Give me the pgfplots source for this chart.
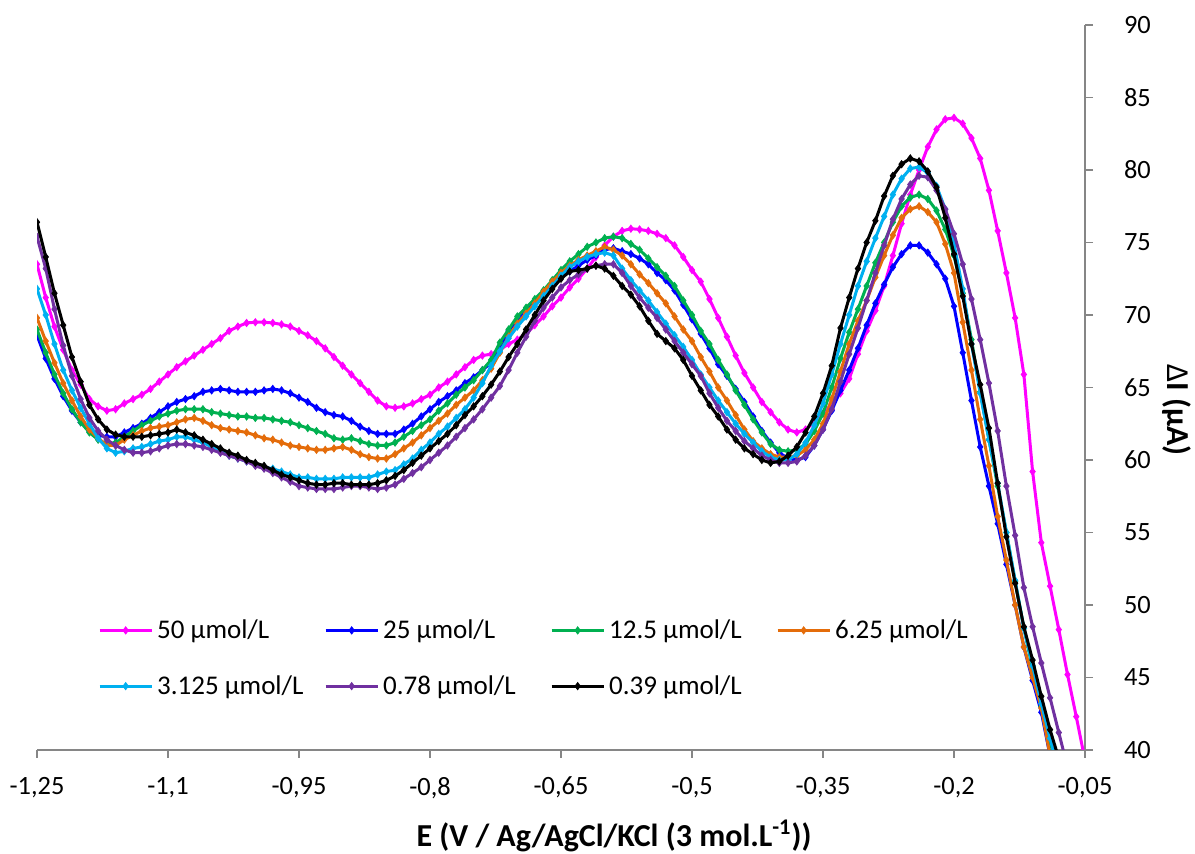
\documentclass[border=0pt]{standalone}
\usepackage{pgfplots}
\pgfplotsset{compat=1.18}
\usepackage{pgfplotstable}
\usepackage{fontspec}
\setmainfont{Carlito}
\definecolor{cM}{HTML}{FF00FF}
\definecolor{cB}{HTML}{0000FF}
\definecolor{cG}{HTML}{00B050}
\definecolor{cO}{HTML}{E46C0A}
\definecolor{cC}{HTML}{00B0F0}
\definecolor{cP}{HTML}{7030A0}
\definecolor{cK}{HTML}{000000}
\definecolor{axisgray}{HTML}{868686}

\pgfplotstableread{
x m b g o c p k
-1.25 73.5 68.6 69.0 69.8 71.8 75.4 76.4
-1.24 71.2 67.0 67.4 68.2 70.0 73.2 74.0
-1.23 69.2 65.6 65.9 66.7 68.0 70.4 71.5
-1.22 67.6 64.4 64.6 65.3 66.2 67.9 69.3
-1.21 66.2 63.4 63.5 64.1 64.8 65.8 67.1
-1.20 65.2 62.6 62.6 63.0 63.6 64.2 65.4
-1.19 64.2 62.0 61.9 62.1 62.5 62.9 63.8
-1.18 63.7 61.7 61.4 61.5 61.5 62.0 62.8
-1.17 63.4 61.6 61.1 61.0 60.8 61.4 62.1
-1.16 63.5 61.6 61.2 61.0 60.5 61.0 61.75
-1.15 63.9 61.9 61.6 61.4 60.6 60.7 61.6
-1.14 64.2 62.2 62.0 61.7 60.8 60.5 61.6
-1.13 64.5 62.5 62.4 62.0 60.9 60.5 61.6
-1.12 64.9 62.9 62.7 62.2 61.1 60.6 61.7
-1.11 65.4 63.3 63.0 62.3 61.3 60.8 61.8
-1.10 65.9 63.7 63.2 62.4 61.4 61.0 61.9
-1.09 66.4 64.0 63.4 62.6 61.6 61.1 62.1
-1.08 66.8 64.2 63.5 62.8 61.6 61.1 61.9
-1.07 67.2 64.4 63.5 62.9 61.4 61.0 61.7
-1.06 67.6 64.7 63.5 62.7 61.2 60.9 61.4
-1.05 68.0 64.8 63.3 62.4 60.9 60.7 61.1
-1.04 68.4 64.9 63.2 62.2 60.6 60.5 60.8
-1.03 68.9 64.8 63.1 62.1 60.3 60.3 60.5
-1.02 69.2 64.7 63.0 62.0 60.1 60.1 60.3
-1.01 69.45 64.7 63.0 61.9 59.9 59.9 60.0
-1.00 69.5 64.7 62.9 61.7 59.7 59.6 59.8
-0.99 69.5 64.8 62.9 61.5 59.5 59.4 59.6
-0.98 69.45 64.9 62.8 61.4 59.4 59.1 59.3
-0.97 69.35 64.8 62.7 61.2 59.2 58.8 59.0
-0.96 69.2 64.6 62.6 61.0 59.0 58.5 58.8
-0.95 68.9 64.3 62.4 60.9 58.8 58.2 58.6
-0.94 68.6 64.0 62.2 60.8 58.8 58.1 58.4
-0.93 68.2 63.6 62.0 60.7 58.7 58.0 58.3
-0.92 67.7 63.3 61.8 60.7 58.7 58.0 58.3
-0.91 67.1 63.1 61.5 60.8 58.7 58.0 58.4
-0.90 66.5 63.0 61.4 60.9 58.8 58.1 58.4
-0.89 65.9 62.7 61.5 60.7 58.8 58.2 58.3
-0.88 65.3 62.3 61.3 60.4 58.8 58.2 58.3
-0.87 64.7 62.0 61.1 60.2 58.8 58.1 58.3
-0.86 64.1 61.8 61.0 60.1 59.0 58.0 58.4
-0.85 63.7 61.8 61.0 60.1 59.2 58.1 58.6
-0.84 63.6 61.8 61.2 60.4 59.3 58.3 58.9
-0.83 63.7 62.1 61.6 60.8 59.7 58.7 59.3
-0.82 63.9 62.5 62.0 61.2 60.1 59.1 59.8
-0.81 64.2 63.0 62.4 61.7 60.7 59.5 60.3
-0.80 64.5 63.5 62.8 62.2 61.2 60.0 60.8
-0.79 65.0 64.0 63.4 62.7 61.8 60.5 61.3
-0.78 65.4 64.4 63.9 63.2 62.3 61.0 61.8
-0.77 65.9 64.8 64.5 63.8 62.9 61.6 62.4
-0.76 66.4 65.3 65.0 64.3 63.5 62.2 63.1
-0.75 66.9 65.7 65.5 64.8 64.3 62.8 63.7
-0.74 67.2 66.2 66.2 65.5 65.3 63.5 64.4
-0.73 67.3 66.7 66.9 66.3 66.5 64.3 65.2
-0.72 67.6 67.8 68.1 67.4 67.5 65.1 66.1
-0.71 68.0 68.9 69.0 68.5 68.4 66.2 67.1
-0.70 68.3 69.7 69.9 69.4 69.2 67.4 68.0
-0.69 68.7 70.4 70.5 70.1 69.9 68.5 69.0
-0.68 69.3 70.9 71.1 70.8 70.6 69.6 70.0
-0.67 69.9 71.5 71.7 71.6 71.3 70.5 71.0
-0.66 70.6 72.1 72.4 72.3 72.0 71.2 71.8
-0.65 71.2 72.6 73.1 72.9 72.7 71.9 72.5
-0.64 71.9 73.0 73.7 73.4 73.3 72.4 73.0
-0.63 72.5 73.4 74.2 73.8 73.7 72.8 73.1
-0.62 73.2 73.8 74.7 74.1 74.0 73.2 73.2
-0.61 74.0 74.1 75.0 74.4 74.2 73.4 73.4
-0.60 74.8 74.5 75.3 74.7 74.3 73.5 73.2
-0.59 75.4 74.6 75.4 74.5 74.1 73.5 72.7
-0.58 75.8 74.4 75.3 74.1 73.2 72.9 72.0
-0.57 75.95 74.2 74.9 73.5 72.4 72.0 71.4
-0.56 75.9 73.9 74.5 72.8 71.7 71.2 70.6
-0.55 75.8 73.5 73.9 72.2 71.0 70.5 69.6
-0.54 75.6 72.9 73.3 71.5 70.2 69.8 68.7
-0.53 75.3 72.4 72.7 70.8 69.4 69.0 68.2
-0.52 74.8 71.7 72.0 69.9 68.6 68.2 67.7
-0.51 74.0 70.7 71.0 69.0 67.8 67.4 66.9
-0.50 73.1 69.7 70.0 68.2 66.9 66.6 65.8
-0.49 72.3 68.7 68.9 67.1 65.9 65.8 64.8
-0.48 71.1 67.7 68.0 66.1 65.0 64.6 63.8
-0.47 69.8 66.6 66.9 65.0 64.1 63.6 63.0
-0.46 68.5 65.8 65.9 64.1 63.3 62.7 62.1
-0.45 67.2 64.9 64.8 63.1 62.5 62.0 61.4
-0.44 66.0 64.0 63.8 62.1 61.8 61.3 60.8
-0.43 65.0 63.0 62.8 61.3 61.2 60.8 60.4
-0.42 64.0 62.0 61.9 60.8 60.6 60.3 60.0
-0.41 63.3 61.2 61.1 60.4 60.2 60.0 59.8
-0.40 62.6 60.5 60.7 60.2 60.0 59.8 59.9
-0.39 62.1 60.1 60.6 60.2 60.0 59.8 60.3
-0.38 61.9 60.0 60.7 60.3 60.4 59.9 60.9
-0.37 62.1 60.2 61.1 60.7 61.2 60.3 61.9
-0.36 62.6 61.0 62.0 61.4 62.4 61.0 63.0
-0.35 63.2 62.1 63.2 62.5 63.9 62.1 64.6
-0.34 63.9 63.4 65.0 64.2 65.9 63.5 66.5
-0.33 64.6 64.8 67.0 66.1 68.0 65.4 69.1
-0.32 65.6 66.2 68.8 68.0 70.0 67.3 71.2
-0.31 67.3 67.7 70.4 69.6 72.0 69.1 73.2
-0.30 68.9 69.3 72.0 71.0 73.7 71.0 75.0
-0.29 70.3 70.8 73.6 72.6 75.3 72.9 76.5
-0.28 72.0 72.1 75.0 74.1 76.8 74.8 78.2
-0.27 74.1 73.3 76.4 75.5 78.3 76.6 79.6
-0.26 76.3 74.2 77.5 76.7 79.4 78.0 80.4
-0.25 78.3 74.8 78.1 77.3 80.1 79.0 80.8
-0.24 80.0 74.8 78.3 77.5 80.2 79.6 80.6
-0.23 81.6 74.3 78.0 77.1 79.8 79.5 79.9
-0.22 82.8 73.5 77.2 76.4 78.9 78.6 78.8
-0.21 83.5 72.5 75.9 74.9 77.3 77.3 76.7
-0.20 83.6 70.6 74.1 72.9 74.9 75.6 74.2
-0.19 83.2 67.4 71.5 69.5 71.8 73.5 71.3
-0.18 82.2 64.1 68.3 66.2 68.0 71.1 68.0
-0.17 80.8 60.9 64.7 62.8 64.6 68.3 65.2
-0.16 78.6 58.2 61.4 59.6 61.4 65.3 62.2
-0.15 75.8 55.6 58.2 56.1 58.4 62.0 58.4
-0.14 72.9 52.8 55.0 53.1 55.0 58.2 54.7
-0.13 69.8 50.0 51.6 50.0 51.7 54.8 51.5
-0.12 65.9 47.1 48.4 47.1 48.4 51.2 48.5
-0.11 59.2 44.8 45.6 45.0 45.8 48.5 46.2
-0.10 54.3 42.6 43.0 42.9 43.2 46.0 43.7
-0.09 51.3 39.6 40.6 39.6 40.8 43.6 41.4
-0.08 48.3 37.3 38.2 37.5 38.5 41.2 39.4
-0.07 45.2 35.0 36.0 35.3 36.2 38.8 37.0
-0.06 42.3 33.0 34.0 33.0 34.0 36.5 35.0
-0.05 39.3 31.0 32.0 31.0 32.0 34.2 33.0
}\data

\pgfplotsset{
  curve/.style={#1, line width=1.5pt, mark=diamond*, mark size=1.8pt,
    mark options={solid, line width=0.4pt, fill=#1, draw=#1}},
}

\begin{document}
\begin{tikzpicture}
\useasboundingbox (-18.5pt,-52pt) rectangle (579pt,375pt);
\begin{axis}[
  scale only axis, width=524pt, height=362.5pt,
  xmin=-1.25, xmax=-0.05, ymin=40, ymax=90,
  axis x line*=bottom, axis y line*=right,
  axis line style={draw=axisgray, line width=0.9pt},
  tick align=outside, major tick length=4pt,
  tick style={draw=axisgray, line width=0.9pt},
  xtick={-1.25,-1.1,-0.95,-0.8,-0.65,-0.5,-0.35,-0.2,-0.05},
  xticklabels={{-1,25},{-1,1},{-0,95},{-0,8},{-0,65},{-0,5},{-0,35},{-0,2},{-0,05}},
  ytick={40,45,50,55,60,65,70,75,80,85,90},
  /pgf/number format/assume math mode=true,
  tick label style={font=\fontsize{13.2}{15}\selectfont},
  xticklabel style={yshift=-6pt},
  yticklabel style={xshift=12pt, anchor=west},
  xlabel={E (V / Ag/AgCl/KCl (3 mol.L\textsuperscript{-1}))},
  xlabel style={at={(axis description cs:0.5506,0)}, anchor=center, yshift=-43pt,
    font=\bfseries\fontsize{16}{19}\selectfont},
  ylabel={{\mdseries Δ}I (µA)},
  ylabel style={at={(axis description cs:1.0878,0.469)}, anchor=center, rotate=180,
    font=\bfseries\fontsize{16}{19}\selectfont},
  clip marker paths=true,
  legend columns=4,
  legend cell align=left,
  legend style={draw=none, fill=none, at={(rel axis cs:0.058,0.186)}, anchor=north west,
    font=\fontsize{13.5}{16}\selectfont, row sep=13pt, inner sep=0pt},
  legend image code/.code={\draw[mark repeat=2,mark phase=2,#1] plot coordinates {(0pt,0pt) (13pt,0pt) (26pt,0pt)};},
]
\addplot[curve=cM] table[x=x,y=m]{\data};
\addlegendentry{\makebox[81.5pt][l]{50 µmol/L}}
\addplot[curve=cB] table[x=x,y=b]{\data};
\addlegendentry{\makebox[81.5pt][l]{25 µmol/L}}
\addplot[curve=cG] table[x=x,y=g]{\data};
\addlegendentry{\makebox[81.5pt][l]{12.5 µmol/L}}
\addplot[curve=cO] table[x=x,y=o]{\data};
\addlegendentry{\makebox[81.5pt][l]{6.25 µmol/L}}
\addplot[curve=cC] table[x=x,y=c]{\data};
\addlegendentry{\makebox[81.5pt][l]{3.125 µmol/L}}
\addplot[curve=cP] table[x=x,y=p]{\data};
\addlegendentry{\makebox[81.5pt][l]{0.78 µmol/L}}
\addplot[curve=cK] table[x=x,y=k]{\data};
\addlegendentry{\makebox[81.5pt][l]{0.39 µmol/L}}
\end{axis}
\end{tikzpicture}
\end{document}
